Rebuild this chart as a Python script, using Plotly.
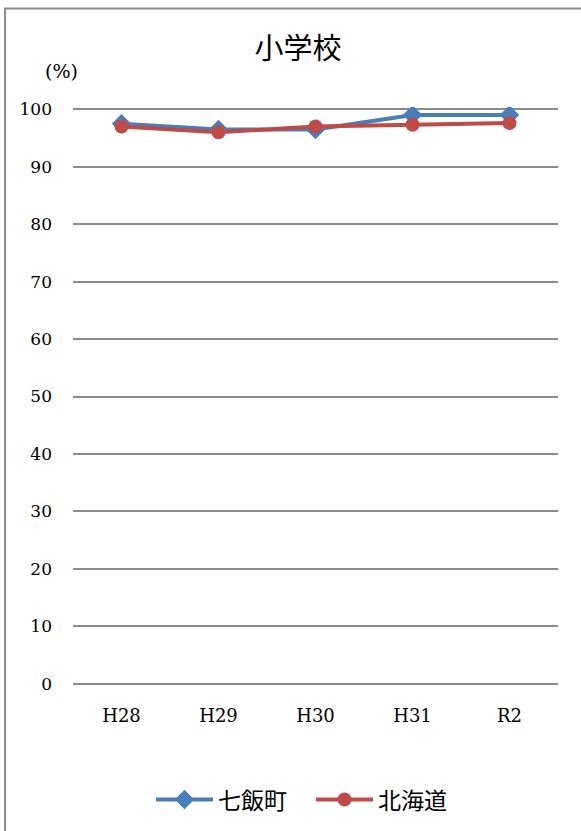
import plotly.graph_objects as go

categories = ["H28", "H29", "H30", "H31", "R2"]
nanae = [97.5, 96.5, 96.5, 99.0, 99.0]
hokkaido = [97.0, 96.0, 97.0, 97.3, 97.6]
series_names = ["七飯町", "北海道"]
title_text = "小学校"
unit_label = "(%)"

W, H = 581, 831
L, R = 73, 23
y_top, y_bot = 109, 684
pad = 0.4  # range padding so 0 and 100 gridlines are drawn
ppu = (y_bot - y_top) / 100.0
T = y_top - pad * ppu
B = H - (y_bot + pad * ppu)
pw = W - L - R
ph = H - T - B


def py(ypix):
    # pixel y -> paper y
    return (H - B - ypix) / ph


fig = go.Figure()
fig.add_trace(go.Scatter(
    x=categories, y=nanae, name=series_names[0], mode="lines+markers",
    line=dict(color="#4A7EBB", width=4),
    marker=dict(symbol="diamond", size=15, color="#4A7EBB"),
))
fig.add_trace(go.Scatter(
    x=categories, y=hokkaido, name=series_names[1], mode="lines+markers",
    line=dict(color="#BE4B48", width=4),
    marker=dict(symbol="circle", size=14, color="#BE4B48"),
))

serif = "DejaVu Serif"
cjk = "Noto Sans CJK JP"

fig.update_layout(
    width=W, height=H,
    margin=dict(l=L, r=R, t=T, b=B, pad=0, autoexpand=False),
    paper_bgcolor="white", plot_bgcolor="white",
    title=dict(text=title_text, x=298 / W, xanchor="center",
               y=1 - 49 / H, yanchor="middle",
               font=dict(family=cjk, size=29, color="black")),
    xaxis=dict(showgrid=False, showline=False, zeroline=False,
               ticks="", ticklabelstandoff=17,
               tickfont=dict(family=serif, size=18, color="black"),
               range=[-0.5, 4.5]),
    yaxis=dict(range=[-pad, 100 + pad], tickvals=list(range(0, 101, 10)),
               showgrid=True, gridcolor="#8C8C8C",
               gridwidth=1.5, zeroline=False, showline=False, ticks="",
               ticklabelstandoff=20,
               tickfont=dict(family=serif, size=17, color="black")),
    showlegend=True,
    legend=dict(orientation="h", x=(151 - L) / pw, xanchor="left",
                y=py(800), yanchor="middle",
                itemwidth=57, entrywidth=88, entrywidthmode="pixels",
                font=dict(family=cjk, size=23, color="black"),
                bgcolor="rgba(0,0,0,0)"),
    annotations=[dict(text=unit_label, xref="paper", yref="paper",
                      x=(80 - L) / pw, xanchor="right",
                      y=py(71), yanchor="middle",
                      showarrow=False,
                      font=dict(family=serif, size=19, color="black"))],
    shapes=[dict(type="rect", xref="paper", yref="paper",
                 x0=(5 - L) / pw, x1=1.3, y0=-0.5, y1=py(8),
                 line=dict(color="#8C8C8C", width=2),
                 fillcolor="rgba(0,0,0,0)", layer="below")],
)

fig.write_html("out.html",
               config={"displayModeBar": False},
               post_script="document.body.style.margin='0';document.body.style.overflow='hidden';")
